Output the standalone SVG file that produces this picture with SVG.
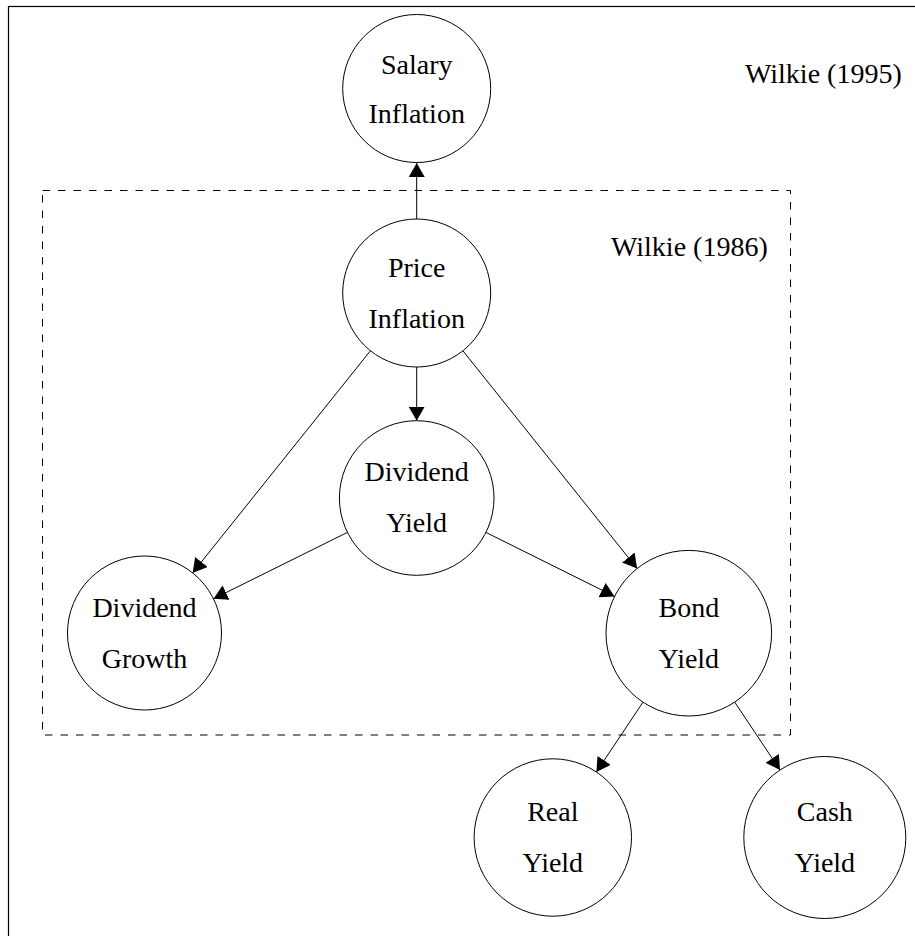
<svg xmlns="http://www.w3.org/2000/svg" width="915" height="936" viewBox="0 0 915 936">
<defs>
<marker id="arr" viewBox="0 0 14 16" refX="14" refY="8" markerWidth="14" markerHeight="16" markerUnits="userSpaceOnUse" orient="auto">
<path d="M0,0 L14,8 L0,16 z" fill="#000"/>
</marker>
<style>
.n{fill:#fff;stroke:#000;stroke-width:1}
.t{text-anchor:middle}
.e{stroke:#000;stroke-width:1;fill:none;marker-end:url(#arr)}
</style>
</defs>
<rect width="915" height="936" fill="#fff"/>
<rect x="8.5" y="6.5" width="1000" height="1000" fill="none" stroke="#000" stroke-width="1.2"/>
<rect x="42.5" y="190.5" width="748" height="544.5" fill="none" stroke="#000" stroke-width="1" stroke-dasharray="7.5 8"/>
<g font-family="Liberation Serif, Times New Roman, DejaVu Serif, serif" font-size="28" fill="#000">
<text x="745" y="83">Wilkie (1995)</text>
<text x="611" y="256">Wilkie (1986)</text>
</g>
<g id="connectors">
<line class="e" x1="416.7" y1="219.3" x2="416.7" y2="163"/>
<line class="e" x1="416.7" y1="367" x2="416.7" y2="420.7"/>
<line class="e" x1="370.4" y1="350.8" x2="192.6" y2="572.9"/>
<line class="e" x1="462.9" y1="350.8" x2="637.1" y2="568.5"/>
<line class="e" x1="347.4" y1="532.4" x2="213.5" y2="598.8"/>
<line class="e" x1="485.9" y1="532.4" x2="614.6" y2="596.4"/>
<line class="e" x1="643" y1="702.1" x2="596.4" y2="772"/>
<line class="e" x1="734.7" y1="702.1" x2="780" y2="770"/>
</g>
<g font-family="Liberation Serif, Times New Roman, DejaVu Serif, serif" font-size="28" fill="#000">
<g id="salary">
<circle class="n" cx="416.7" cy="88.5" r="74"/>
<text class="t" x="416.7" y="74">Salary</text>
<text class="t" x="416.7" y="123.3">Inflation</text>
</g>
<g id="price">
<circle class="n" cx="416.7" cy="293" r="74"/>
<text class="t" x="416.7" y="277">Price</text>
<text class="t" x="416.7" y="328">Inflation</text>
</g>
<g id="divyield">
<circle class="n" cx="416.7" cy="498" r="77.3"/>
<text class="t" x="416.7" y="481">Dividend</text>
<text class="t" x="416.7" y="532">Yield</text>
</g>
<g id="divgrowth">
<circle class="n" cx="144.5" cy="633" r="77"/>
<text class="t" x="144.5" y="617">Dividend</text>
<text class="t" x="144.5" y="668">Growth</text>
</g>
<g id="bond">
<circle class="n" cx="688.8" cy="633.2" r="82.8"/>
<text class="t" x="688.8" y="617">Bond</text>
<text class="t" x="688.8" y="668">Yield</text>
</g>
<g id="real">
<circle class="n" cx="552.8" cy="837.5" r="78.7"/>
<text class="t" x="552.8" y="821">Real</text>
<text class="t" x="552.8" y="872">Yield</text>
</g>
<g id="cash">
<circle class="n" cx="824.8" cy="837.5" r="81"/>
<text class="t" x="824.8" y="821">Cash</text>
<text class="t" x="824.8" y="872">Yield</text>
</g>
</g>
</svg>
